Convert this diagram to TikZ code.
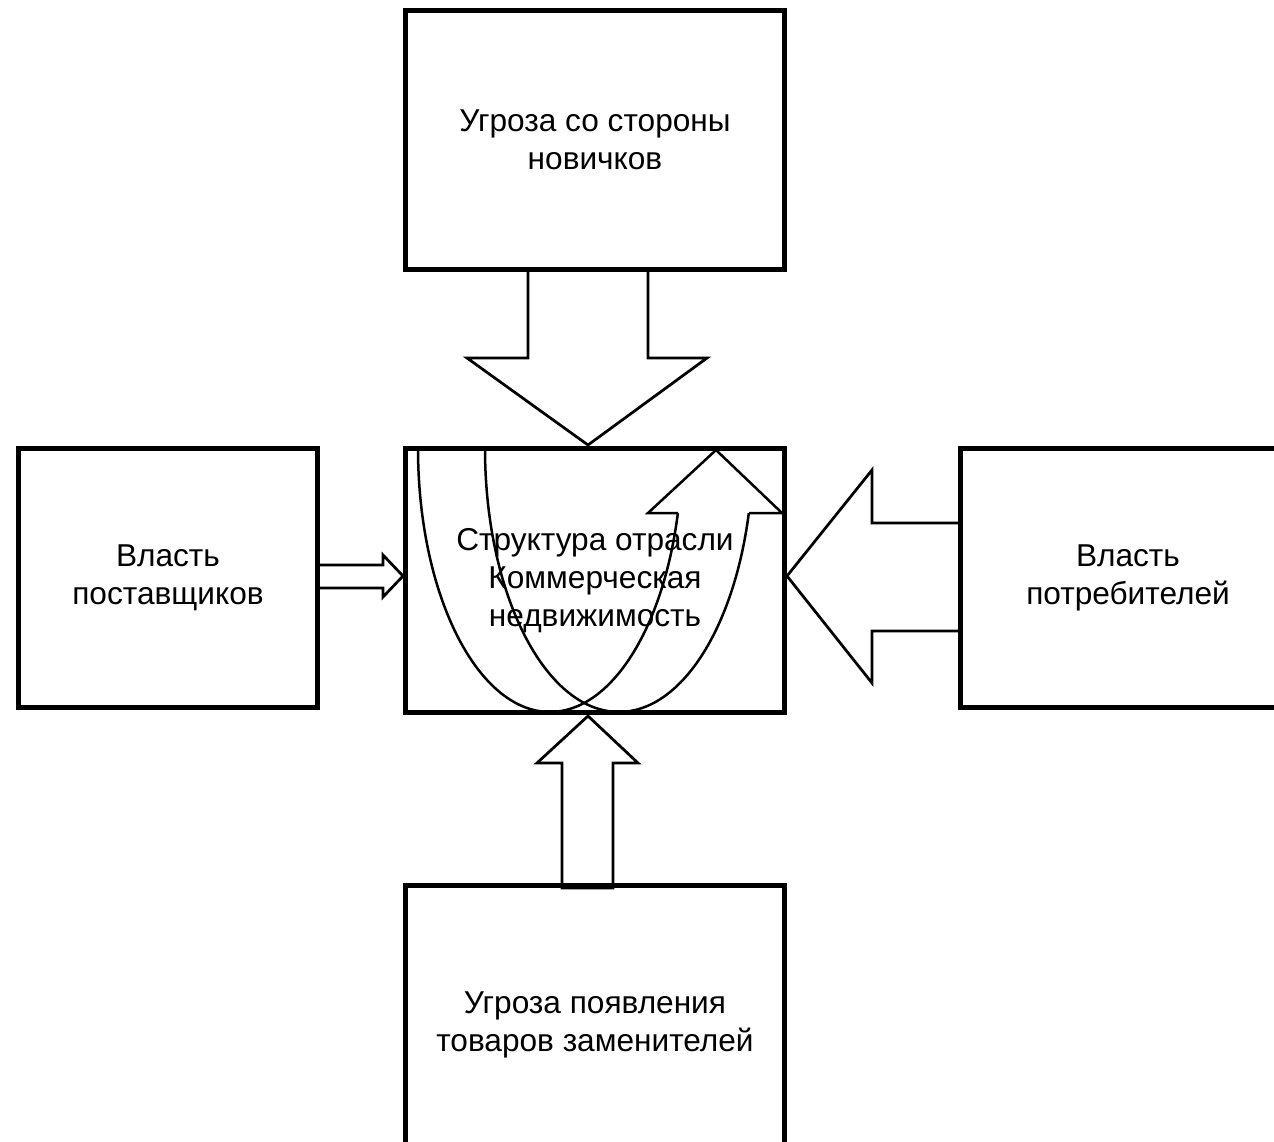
\documentclass[tikz,border=0pt]{standalone}
\usepackage{fontspec}
\setmainfont{Liberation Sans}
\usetikzlibrary{positioning,calc}

\begin{document}
\begin{tikzpicture}[x=0.02cm,y=-0.02cm,
  box/.style={align=center,inner sep=0pt,outer sep=0pt,
    font=\fontsize{18}{21.5}\selectfont},
  blockarrow/.style={draw,fill=white,line width=0.055cm,line join=miter},
  uarrow/.style={draw,line width=0.05cm,line join=miter}]
  \clip (0,0) rectangle (1274,1142);
  \node[box,minimum width=7.6cm,minimum height=5.3cm] (industry) at (595,580.5) {};
  \node[box,minimum width=7.6cm,minimum height=5.2cm] (entrants) at (595,140) {Угроза со стороны\\новичков};
  \node[box,minimum width=6cm,minimum height=5.2cm] (suppliers) at (168,578) {Власть\\поставщиков};
  \node[box,minimum width=6.7cm,minimum height=5.2cm] (buyers) at (1128,578) {Власть\\потребителей};
  \node[box,minimum width=7.6cm,minimum height=5.6cm] (substitutes) at (595,1025) {Угроза появления\\товаров заменителей};

  \draw[blockarrow] (528,0 |- entrants.south) -- (528,358) -- (467,358) -- (588,445)
    -- (707,358) -- (648,358) -- (648,0 |- entrants.south);
  \draw[blockarrow] (suppliers.east |- 0,565) -- (383,565) -- (383,555) -- (403,576)
    -- (383,597) -- (383,588) -- (suppliers.east |- 0,588);
  \draw[blockarrow] (buyers.west |- 0,523) -- (872,523) -- (872,470) -- (787,576)
    -- (872,683) -- (872,631) -- (buyers.west |- 0,631);
  \draw[blockarrow] (562,888) -- (562,763) -- (537,763) -- (588,716)
    -- (638,763) -- (613,763) -- (613,888) -- cycle;

  \foreach \n in {industry,entrants,suppliers,buyers,substitutes}
    \draw[line width=0.1cm] (\n.north west) rectangle (\n.south east);

  \draw[uarrow] (418,448) arc[start angle=180,end angle=345.7,x radius=2.64cm,y radius=5.28cm];
  \draw[uarrow] (485,448) arc[start angle=180,end angle=345.7,x radius=2.68cm,y radius=5.28cm];
  \draw[uarrow] (678,513) -- (648,513) -- (716,450) -- (782,513) -- (749,513);
  \node[box] at (industry) {Структура отрасли\\Коммерческая\\недвижимость};
\end{tikzpicture}
\end{document}
